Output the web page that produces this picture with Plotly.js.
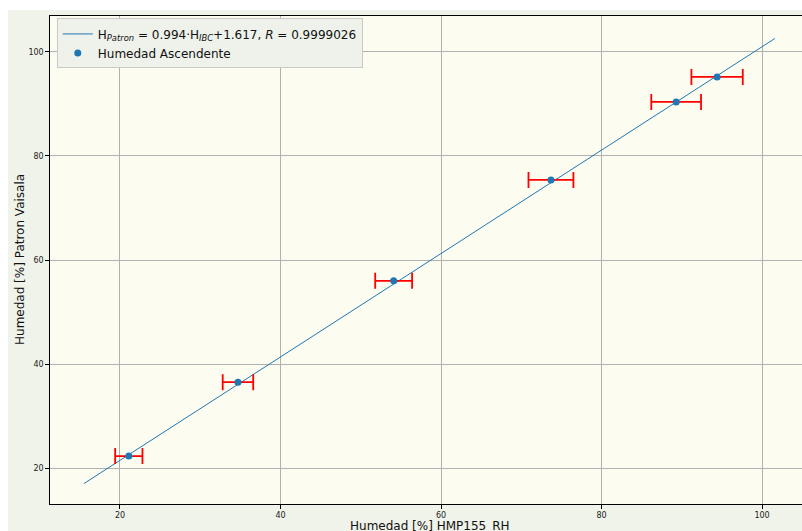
<!DOCTYPE html>
<html>
<head>
<meta charset="utf-8">
<script src="https://cdn.plot.ly/plotly-3.0.1.min.js"></script>
<style>
html,body{margin:0;padding:0;background:#ffffff;width:802px;height:531px;overflow:hidden;}
#chart{position:absolute;left:8px;top:10px;width:794px;height:521px;}
</style>
</head>
<body>
<div id="chart"></div>
<script>
// Data
const sensorRH = [21.1, 34.7, 54.1, 73.7, 89.3, 94.4];
const patronRH = [22.3, 36.5, 56.0, 75.4, 90.4, 95.2];
const sensorErr = [1.7, 1.9, 2.3, 2.8, 3.1, 3.2];
const fitX = [15.5, 101.6];
const fitY = [17.0, 102.6];
const xTicks = [20, 40, 60, 80, 100];
const yTicks = [20, 40, 60, 80, 100];
const fitLabel = 'H<sub><i>Patron</i></sub> = 0.994·H<sub><i>IBC</i></sub>+1.617, <i>R</i> = 0.9999026';
const dataLabel = 'Humedad Ascendente';
const xTitle = 'Humedad [%] HMP155_RH';
const yTitle = 'Humedad [%] Patron Vaisala';

const traces = [
  {
    x: fitX, y: fitY, type: 'scatter', mode: 'lines',
    name: fitLabel,
    line: {color: '#1f77b4', width: 1}
  },
  {
    x: sensorRH, y: patronRH, type: 'scatter', mode: 'markers',
    name: dataLabel,
    marker: {color: '#1f77b4', size: 7},
    error_x: {type: 'data', array: sensorErr, visible: true, color: '#ff0000', thickness: 1.8, width: 8}
  }
];

const axisCommon = {
  showgrid: true, gridcolor: '#b0b0b0', gridwidth: 1,
  zeroline: false,
  showline: true, linecolor: '#000000', linewidth: 1.2,
  ticks: 'outside', ticklen: 3.5, tickcolor: '#000000', tickwidth: 1,
  tickfont: {family: 'DejaVu Sans', size: 8, color: '#222222'}
};

const layout = {
  width: 794, height: 521,
  margin: {l: 42, r: 0, t: 6, b: 27},
  paper_bgcolor: '#eff3ea',
  plot_bgcolor: '#fcfcf0',
  font: {family: 'DejaVu Sans', color: '#222222'},
  showlegend: true,
  legend: {
    x: 0.009, y: 0.995, xanchor: 'left', yanchor: 'top',
    bgcolor: '#eef2ea', bordercolor: '#c8c8c8', borderwidth: 1,
    font: {family: 'DejaVu Sans', size: 12, color: '#111111'},
    tracegroupgap: 0
  },
  xaxis: Object.assign({}, axisCommon, {
    range: [11.28, 104.98],
    tickvals: xTicks,
    mirror: true
  }),
  yaxis: Object.assign({}, axisCommon, {
    range: [13.08, 106.92],
    tickvals: yTicks
  }),
  annotations: [
    {
      text: xTitle, xref: 'paper', yref: 'paper', x: 0.505, y: 0,
      xanchor: 'center', yanchor: 'middle', yshift: -22, showarrow: false,
      font: {family: 'DejaVu Sans', size: 12, color: '#111111'}
    },
    {
      text: yTitle, xref: 'paper', yref: 'paper', x: 0, y: 0.5,
      xanchor: 'center', yanchor: 'middle', xshift: -30, textangle: -90, showarrow: false,
      font: {family: 'DejaVu Sans', size: 12, color: '#111111'}
    }
  ]
};

Plotly.newPlot('chart', traces, layout, {displayModeBar: false, staticPlot: true});
</script>
</body>
</html>
